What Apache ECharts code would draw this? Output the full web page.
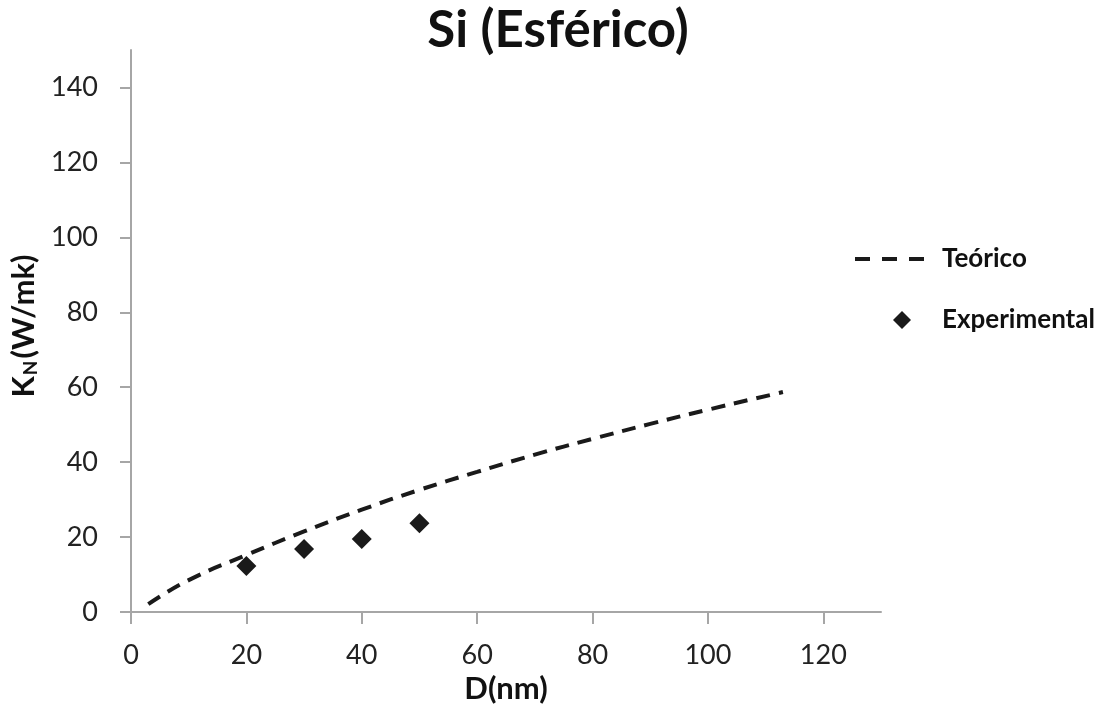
<!DOCTYPE html>
<html>
<head>
<meta charset="utf-8">
<script src="https://cdn.jsdelivr.net/npm/echarts@6/dist/echarts.min.js"></script>
<style>html,body{margin:0;padding:0;background:#fff;}#c{width:1104px;height:704px;}</style>
</head>
<body>
<div id="c"></div>
<script>
var titleText = 'Si (Esférico)';
var theoryName = 'Teórico';
var expName = 'Experimental';
var theoryX = [3, 10, 20, 30, 40, 50, 60, 70, 80, 90, 100, 113];
var theoryY = [2.1, 8.5, 15.2, 21.5, 27.3, 32.6, 37.4, 42.0, 46.2, 50.2, 54.0, 58.7];
var expX = [20, 30, 40, 50];
var expY = [12.3, 16.8, 19.5, 23.7];
var xTicks = [0, 20, 40, 60, 80, 100, 120];
var yTicks = [0, 20, 40, 60, 80, 100, 120, 140];

var font = 'Lato, "Open Sans", sans-serif';
var dashIcon = 'path://M0,0H15V4H0Z M27,0H42V4H27Z M54,0H69V4H54Z';
var chart = echarts.init(document.getElementById('c'));
chart.setOption({
  backgroundColor: '#fff',
  animation: false,
  title: {
    text: titleText, left: 553, top: 0, textAlign: 'center',
    textStyle: {fontFamily: font, fontWeight: 'bold', fontSize: 51, color: '#111'}
  },
  legend: [
    {
      orient: 'vertical', left: 850, top: 241,
      itemWidth: 69, itemHeight: 4,
      textStyle: {fontFamily: font, fontWeight: 'bold', fontSize: 26, color: '#111', padding: [0, 0, 0, 13]},
      data: [{name: theoryName, icon: dashIcon, itemStyle: {color: '#1a1a1a'}}]
    },
    {
      orient: 'vertical', left: 888, top: 302,
      itemWidth: 18, itemHeight: 18,
      textStyle: {fontFamily: font, fontWeight: 'bold', fontSize: 26, color: '#111', padding: [0, 0, 0, 26]},
      data: [{name: expName, icon: 'diamond', itemStyle: {color: '#1a1a1a'}}]
    }
  ],
  grid: {left: 131, top: 50, right: 223, bottom: 92, containLabel: false, outerBoundsMode: 'none'},
  xAxis: {
    type: 'value', min: 0, max: 130, interval: 20,
    name: 'D(nm)', nameLocation: 'middle', nameGap: 60,
    nameTextStyle: {fontFamily: font, fontWeight: 'bold', fontSize: 31, color: '#111'},
    axisLine: {show: true, lineStyle: {color: '#a6a6a6', width: 2}},
    axisTick: {show: true, length: 12, customValues: xTicks, lineStyle: {color: '#a6a6a6', width: 2}},
    axisLabel: {customValues: xTicks, margin: 30, fontFamily: font, fontSize: 27, color: '#222'},
    splitLine: {show: false}
  },
  yAxis: {
    type: 'value', min: 0, max: 150, interval: 20,
    name: '{a|K}{s|N}{a|(W/mk)}', nameLocation: 'middle', nameGap: 85, nameRotate: 90,
    nameTextStyle: {
      padding: [0, 0, 0, 10],
      rich: {
        a: {fontFamily: font, fontWeight: 'bold', fontSize: 31, color: '#111'},
        s: {fontFamily: font, fontWeight: 'bold', fontSize: 19, color: '#111', padding: [14, 2, 0, 1]}
      }
    },
    axisLine: {show: true, lineStyle: {color: '#a6a6a6', width: 2}},
    axisTick: {show: true, length: 11, customValues: yTicks, lineStyle: {color: '#a6a6a6', width: 2}},
    axisLabel: {customValues: yTicks, margin: 33, fontFamily: font, fontSize: 27, color: '#222'},
    splitLine: {show: false}
  },
  series: [
    {
      name: theoryName, type: 'line', smooth: true, showSymbol: false, symbol: 'none',
      data: theoryX.map(function (x, i) { return [x, theoryY[i]]; }),
      lineStyle: {color: '#1a1a1a', width: 4, type: [14, 9]},
      itemStyle: {color: '#1a1a1a'}
    },
    {
      name: expName, type: 'scatter', symbol: 'diamond', symbolSize: 20,
      data: expX.map(function (x, i) { return [x, expY[i]]; }),
      itemStyle: {color: '#1a1a1a', opacity: 1}
    }
  ]
});
</script>
</body>
</html>
